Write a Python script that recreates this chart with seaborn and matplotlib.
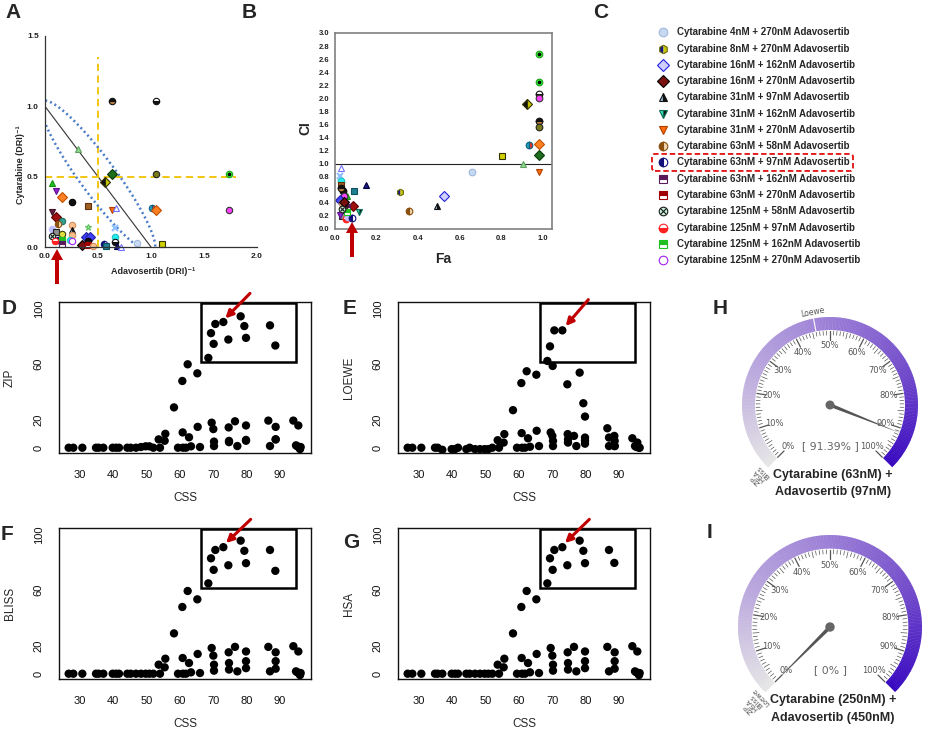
import numpy as np
import pandas as pd
import matplotlib
matplotlib.use("Agg")
import matplotlib.pyplot as plt
import seaborn as sns
from matplotlib.patches import Wedge, Circle, Rectangle, Polygon, FancyArrow, FancyBboxPatch
from matplotlib.colors import LinearSegmentedColormap

sns.set_style("white")
plt.rcParams['font.family'] = ['Liberation Sans', 'DejaVu Sans']

# ---------------- data ----------------
# Panel A: isobologram (normalized DRI^-1), style index per point
A_x = [0.63, 1.045, 0.31, 0.63, 1.045, 1.74, 0.57, 0.063, 0.105, 0.157, 0.25, 0.41, 0.63, 0.67,
       1.01, 1.045, 1.74, 0.063, 0.105, 0.157, 0.126, 0.25, 0.41, 0.66, 0.063, 0.105, 0.25, 0.157,
       0.39, 0.425, 0.25, 0.66, 0.07, 0.126, 0.157, 0.236, 0.25, 0.41, 0.095, 0.157, 0.346, 0.41,
       0.457, 0.557, 0.58, 0.66, 0.68, 0.72, 0.866, 1.10]
A_y = [1.036, 1.036, 0.695, 0.52, 0.52, 0.52, 0.46, 0.457, 0.40, 0.357, 0.32, 0.293, 0.26, 0.28,
       0.274, 0.26, 0.26, 0.25, 0.21, 0.183, 0.16, 0.155, 0.143, 0.136, 0.13, 0.107, 0.12, 0.095,
       0.07, 0.07, 0.083, 0.07, 0.08, 0.052, 0.048, 0.048, 0.043, 0.043, 0.043, 0.02, 0.012, 0.012,
       0.005, 0.02, 0.005, 0.036, 0.005, 0.0, 0.03, 0.024]
A_sty = [15, 16, 17, 18, 19, 20, 21, 22, 23, 24, 25, 26, 6, 27,
         28, 24, 29, 30, 31, 32, 7, 33, 34, 35, 36, 37, 4, 39,
         40, 40, 33, 41, 11, 8, 13, 41, 14, 25, 12, 9, 3, 10,
         33, 8, 44, 16, 38, 27, 0, 45]

# Panel B: Fa vs CI
B_fa = [0.98, 0.98, 0.98, 0.98, 0.925, 0.98, 0.98, 0.98, 0.936, 0.98, 0.804, 0.904, 0.98, 0.66,
        0.527, 0.49, 0.357, 0.313, 0.15, 0.093, 0.116, 0.085, 0.029, 0.024, 0.029, 0.029, 0.037,
        0.056, 0.045, 0.024, 0.032, 0.056, 0.048, 0.04, 0.032, 0.053, 0.064, 0.08, 0.024, 0.03,
        0.045, 0.06, 0.035]
B_ci = [2.68, 2.255, 2.07, 2.0, 1.92, 1.65, 1.56, 1.30, 1.28, 1.14, 1.12, 0.995, 0.88, 0.88,
        0.5, 0.357, 0.28, 0.566, 0.68, 0.577, 0.255, 0.347, 0.93, 0.81, 0.73, 0.68, 0.577,
        0.5, 0.5, 0.45, 0.4, 0.33, 0.31, 0.245, 0.194, 0.15, 0.19, 0.168, 0.22, 0.62,
        0.42, 0.26, 0.3]
B_sty = [20, 20, 16, 29, 21, 15, 19, 24, 28, 18, 45, 17, 6, 0,
         2, 4, 7, 1, 38, 44, 5, 31, 27, 35, 41, 26, 25,
         22, 29, 40, 33, 9, 30, 39, 37, 12, 36, 8, 23, 15,
         3, 13, 11]

# Panel C: combinations
cyt_nM = [4, 8, 16, 16, 31, 31, 31, 63, 63, 63, 63, 125, 125, 125, 125]
ada_nM = [270, 270, 162, 270, 97, 162, 270, 58, 97, 162, 270, 58, 97, 162, 270]
highlight = 8

# Panels D-G: CSS vs synergy scores
CSS = [26.6, 28.0, 30.7, 34.8, 35.6, 37.0, 39.8, 40.8, 41.7, 44.2, 45.2, 46.8, 48.3, 49.7, 50.8, 52.0,
       53.6, 54.0, 55.4, 55.6, 58.2, 59.4, 60.7, 60.8, 60.9, 61.8, 62.3, 62.7, 63.3, 65.2, 65.3, 66.0,
       68.5, 69.3, 69.5, 70.0, 70.1, 70.2, 70.2, 70.6, 73.0, 74.5, 74.6, 74.7, 74.7, 76.5, 77.2,
       78.2, 79.3, 79.8, 79.8, 79.8, 79.8, 86.5, 87.0, 87.0, 88.6, 88.7, 88.7, 88.7,
       94.0, 95.5, 94.8, 95.2, 95.6, 96.0, 96.2]
ZIP = [0, 0, 0, 0, 0, 0, 0, 0, 0, 0, 0, 0, 0.5, 1, 1, 0,
       6, 0, 5, 10, 29, 0, 48, 11, 0, 0, 60, 7.5, 1, 53.5, 15, 0.5,
       64.6, 82.4, 18, 13.4, 74.7, 4.4, 1.2, 89, 90.4, 77.8, 14.6, 4.9, 4.0, 19, 1.2,
       94.5, 87.5, 79, 16, 5.6, 5.0, 19.5, 1.2, 88, 73.5, 15, 6, 6,
       19.5, 16, 1.7, 1, 0.5, -1, 0.5]
LOEWE = [0, 0, 0, 0, 0, -1.5, -1, -1, 0, -1, 0, -1, -1, -1, -1, 0,
         5.4, 0, 3.7, 9.8, 27, 0, 46.5, 10.5, 0, 0, 55, 6.8, 0.7, 52.5, 12.2, 1.2,
         62.4, 72.9, 11, 8.5, 58.8, 4.9, 1.2, 84.4, 84.4, 45.6, 9.8, 3.7, 6, 8.5, 1.2,
         54, 32, 22.4, 7.3, 2.9, 5, 14, 1.2, 7.3, 8.5, 4.9, 1.2, 1.2,
         6.8, 3.7, 1.2, 0.5, 1.2, 0, 0]
BLISS = [0, 0, 0, 0, 0, 0, 0, 0, 0, 0, 0, 0, 0, 0, 0, 0,
         6.5, 0, 4.6, 10.8, 29, 0, 48, 11.3, 0, 0, 59.5, 7.7, 1, 53.5, 14.2, 0.5,
         65, 83, 18.5, 13, 74.7, 6.5, 2.2, 89, 91, 78, 15.4, 7.7, 3, 19.3, 1.7,
         95.7, 88.4, 79.5, 16, 9, 4, 19.3, 1.7, 89, 74, 15.4, 9, 3.6,
         19.8, 16, 1.7, 1, 0.5, -1, 0.5]
HSA = [0, 0, 0, 0, 0, 0, 0, 0, 0, 0, 0, 0, 0, 0, 0, 0,
       6.5, 0, 4.6, 10.8, 29, 0, 48, 11.3, 0, 0, 59.5, 7.7, 1, 53.5, 14.2, 0.5,
       65, 83, 18.5, 13, 74.7, 6.5, 2.2, 89, 91, 78, 15.4, 7.7, 3, 19.3, 1.7,
       95.7, 88.4, 79.5, 16, 9, 4, 19.3, 1.7, 89, 79.7, 15.4, 9, 3.6,
       19.8, 16, 1.7, 1, 0.5, -1, 0.5]

# Panels H-I: gauges
gauge_values = [91.39, 0.0]
gauge_titles = [["Cytarabine (63nM) +", "Adavosertib (97nM)"],
                ["Cytarabine (250nM) +", "Adavosertib (450nM)"]]
gauge_marks = [[("Loewe", 46.0)], [("", 0.0)]]
gauge_stack = [["Bliss", "HSA", "ZIP"], ["Loewe", "Bliss", "HSA", "ZIP"]]

# marker styles: (marker, fillstyle, face, face_alt, edge, overlay)
STY = [
    ('o', 'full', '#c6d9f1', '#c6d9f1', '#9fb8dd', None),
    ('h', 'left', '#1a1a80', '#c8c800', '#6b6b00', None),
    ('D', 'full', '#d0d0ff', '#d0d0ff', '#2020e0', None),
    ('D', 'full', '#7a1010', '#7a1010', '#000000', None),
    ('^', 'left', '#9dc3e6', '#111111', '#111111', None),
    ('v', 'right', '#111111', '#3de0b4', '#0e6e58', None),
    ('v', 'full', '#ff6a10', '#ff6a10', '#b04000', None),
    ('o', 'left', '#8a5010', '#f2d6b0', '#8a5010', None),
    ('o', 'left', '#10107a', '#ffffff', '#10107a', None),
    ('s', 'top', '#5a1a5a', '#ffffff', '#5a1a5a', None),
    ('s', 'top', '#a00000', '#ffffff', '#a00000', None),
    ('o', 'full', '#c8f0dc', '#c8f0dc', '#1a1a1a', 'x'),
    ('o', 'bottom', '#ff2020', '#ffffff', '#ff2020', None),
    ('s', 'top', '#20c020', '#ffffff', '#20c020', None),
    ('o', 'full', '#ffffff', '#ffffff', '#a020f0', None),
    ('o', 'top', '#111111', '#c08040', '#111111', None),
    ('o', 'bottom', '#111111', '#ffffff', '#111111', None),
    ('^', 'full', '#90d890', '#90d890', '#60a060', None),
    ('D', 'full', '#1e6e1e', '#1e6e1e', '#0a3a0a', None),
    ('o', 'full', '#7a7a18', '#7a7a18', '#222222', None),
    ('o', 'full', '#30ff30', '#30ff30', '#20a020', '.'),
    ('D', 'left', '#111111', '#c8c800', '#333300', None),
    ('^', 'full', '#20c020', '#20c020', '#109010', None),
    ('v', 'full', '#9020d0', '#9020d0', '#601090', None),
    ('D', 'full', '#ff8020', '#ff8020', '#c05000', None),
    ('o', 'full', '#111111', '#111111', '#000000', None),
    ('s', 'full', '#a06020', '#a06020', '#603010', None),
    ('^', 'full', '#ffffff', '#ffffff', '#7070ff', None),
    ('o', 'left', '#20a0c0', '#e03030', '#106080', None),
    ('o', 'full', '#ff40ff', '#ff40ff', '#333333', None),
    ('v', 'full', '#602040', '#602040', '#401020', None),
    ('D', 'full', '#a01010', '#a01010', '#600000', None),
    ('o', 'full', '#30a090', '#30a090', '#207060', None),
    ('o', 'full', '#ffc090', '#ffc090', '#d09060', None),
    ('*', 'full', '#90f090', '#90f090', '#60c060', None),
    ('x', 'full', '#90c0ff', '#90c0ff', '#90c0ff', None),
    ('o', 'full', '#c0c0ff', '#c0c0ff', '#c0c0ff', None),
    ('s', 'full', '#909090', '#909090', '#202020', None),
    ('^', 'full', '#1a1a80', '#1a1a80', '#000040', None),
    ('o', 'full', '#e0e040', '#e0e040', '#404000', None),
    ('D', 'full', '#4040ff', '#4040ff', '#2020a0', None),
    ('o', 'full', '#20f0f0', '#20f0f0', '#20c0c0', None),
    ('o', 'full', '#206060', '#206060', '#103030', None),
    ('o', 'full', '#ff2020', '#ff2020', '#c00000', None),
    ('s', 'full', '#208090', '#208090', '#105060', None),
    ('s', 'full', '#d0d000', '#d0d000', '#333300', None),
    ('o', 'full', '#ffffff', '#ffffff', '#ff20ff', None),
]

W, H = 925, 732
fig = plt.figure(figsize=(W / 100, H / 100), dpi=100)
fig.patch.set_facecolor('white')


def add_ax(l, t, r, b, **kw):
    return fig.add_axes([l / W, 1 - b / H, (r - l) / W, (b - t) / H], **kw)


def draw_marker(ax, x, y, idx, ms, clip=False):
    m, fs, fc, fca, ec, ov_m = STY[idx]
    kw = dict(marker=m, ms=ms, mfc=fc, mec=ec, mew=0.8, ls='none', clip_on=clip, fillstyle=fs)
    if fs != 'full':
        kw['markerfacecoloralt'] = fca
    if m == 'x':
        kw['mew'] = 1.5
    ax.plot([x], [y], **kw)
    if ov_m == 'x':
        ax.plot([x], [y], marker='x', ms=ms * 0.6, mec='#1a1a1a', mew=0.8, ls='none', clip_on=clip)
    elif ov_m == '.':
        ax.plot([x], [y], marker='o', ms=ms * 0.35, mfc='black', mec='black', ls='none', clip_on=clip)


# ---------------- Panel A ----------------
axA = add_ax(45, 36, 257, 247)
axA.set_xlim(0, 2.0)
axA.set_ylim(0, 1.5)
for sp in ['top', 'right']:
    axA.spines[sp].set_visible(False)
for sp in ['left', 'bottom']:
    axA.spines[sp].set_color('#333333')
    axA.spines[sp].set_linewidth(0.9)
axA.set_xticks([0, 0.5, 1.0, 1.5, 2.0])
axA.set_xticklabels(['0.0', '0.5', '1.0', '1.5', '2.0'], fontsize=6, fontweight='bold')
axA.set_yticks([0, 0.5, 1.0, 1.5])
axA.set_yticklabels(['0.0', '0.5', '1.0', '1.5'], fontsize=6, fontweight='bold')
axA.tick_params(direction='out', length=3, width=0.8, pad=1.5, colors='#222222')
axA.plot([0, 1], [1, 0], color='#333333', lw=0.8)
axA.plot([0.5, 0.5], [0, 1.35], color='#f2c200', lw=1.3, ls=(0, (4, 2.5)))
axA.plot([0, 1.8], [0.5, 0.5], color='#f2c200', lw=1.3, ls=(0, (4, 2.5)))
t = np.linspace(0, 2 * np.pi, 400)
u = np.array([1, -1]) / np.sqrt(2)
v = np.array([1, 1]) / np.sqrt(2)
ea, eb = 0.75, 0.15
ex = 0.5 + ea * np.cos(t) * u[0] + eb * np.sin(t) * v[0]
ey = 0.5 + ea * np.cos(t) * u[1] + eb * np.sin(t) * v[1]
axA.plot(ex, ey, color='#4a7cc8', lw=1.8, ls=(0, (0.8, 1.2)))
for x, y, s in zip(A_x, A_y, A_sty):
    draw_marker(axA, x, y, s, 4.6)
axA.set_ylabel('Cytarabine (DRI)⁻¹', fontsize=6.5, fontweight='bold')
axA.yaxis.set_label_coords(-0.094, 0.39)
axA.set_xlabel('Adavosertib (DRI)⁻¹', fontsize=6.5, fontweight='bold')
axA.xaxis.set_label_coords(0.51, -0.095)

# ---------------- Panel B ----------------
axB = add_ax(335, 33, 552, 229)
axB.set_xlim(0, 1.045)
axB.set_ylim(0, 3.0)
for sp in axB.spines.values():
    sp.set_color('#808080')
    sp.set_linewidth(1.2)
xt = np.round(np.arange(0, 1.01, 0.2), 1)
yt = np.round(np.arange(0, 3.01, 0.2), 1)
axB.set_xticks(xt)
axB.set_xticklabels([f'{a:.1f}' for a in xt], fontsize=5.5, fontweight='bold')
axB.set_yticks(yt)
axB.set_yticklabels([f'{a:.1f}' for a in yt], fontsize=5.5, fontweight='bold')
axB.tick_params(direction='out', length=2.5, width=0.7, pad=1.5, colors='#222222')
axB.axhline(1.0, color='#222222', lw=0.8)
for x, y, s in zip(B_fa, B_ci, B_sty):
    draw_marker(axB, x, y, s, 4.8)
axB.set_ylabel('CI', fontsize=10, fontweight='bold')
axB.yaxis.set_label_coords(-0.106, 0.515)
axB.set_xlabel('Fa', fontsize=10, fontweight='bold')
axB.xaxis.set_label_coords(0.498, -0.117)

# ---------------- Panels D-G ----------------
panels = [
    ((59, 302, 311, 453), ZIP, 'ZIP', (81, 111), (73.6, 93)),
    ((398, 302, 650, 453), LOEWE, 'LOEWE', (80.8, 106.5), (74.0, 87.5)),
    ((59, 528, 311, 679), BLISS, 'BLISS', (81.2, 111), (73.8, 94)),
    ((398, 528, 650, 679), HSA, 'HSA', (81.1, 111), (73.8, 94)),
]
for (box, vals, lab, a0, a1) in panels:
    ax = add_ax(*box)
    df = pd.DataFrame({'CSS': CSS, lab: vals})
    sns.scatterplot(data=df, x='CSS', y=lab, ax=ax, color='black', s=36, edgecolor='none', linewidth=0)
    ax.set_xlim(23.7, 99.3)
    ax.set_ylim(-3.8, 104.8)
    ax.set_xticks([30, 40, 50, 60, 70, 80, 90])
    ax.set_xticklabels(['30', '40', '50', '60', '70', '80', '90'], fontsize=8)
    ax.set_yticks([0, 20, 40, 60, 80, 100])
    ax.set_yticklabels(['0', '20', '', '60', '', '100'], fontsize=8, rotation=90, va='center')
    ax.tick_params(direction='out', length=5, width=0.8, colors='#111111')
    ax.tick_params(axis='x', pad=7)
    ax.tick_params(axis='y', pad=6)
    for sp in ax.spines.values():
        sp.set_visible(True)
        sp.set_color('#111111')
        sp.set_linewidth(1.0)
    ax.add_patch(Rectangle((66.3, 61.3), 28.5, 42.6, fill=False, lw=1.8, ec='black', clip_on=False))
    ax.annotate('', xy=a1, xytext=a0, annotation_clip=False,
                arrowprops=dict(arrowstyle='-|>', color='#c00000', lw=2.2, mutation_scale=11,
                                shrinkA=0, shrinkB=0))
    ax.set_xlabel('CSS', fontsize=8.5)
    ax.xaxis.set_label_coords(0.5, -0.255)
    ax.set_ylabel(lab, fontsize=8.5)
    ax.yaxis.set_label_coords(-0.172, 0.5)

# ---------------- overlay ----------------
ov = fig.add_axes([0, 0, 1, 1], zorder=20)
ov.set_xlim(0, W)
ov.set_ylim(0, H)
ov.axis('off')
ov.patch.set_alpha(0)


def Y(y):
    return H - y


for lt, (lx, ly) in zip('ABCDEFGHI', [(13, 13), (249, 13), (601, 13), (9, 309), (350, 309),
                                       (7, 535), (351, 542), (720, 308), (710, 532)]):
    ov.text(lx, Y(ly), lt, fontsize=15, fontweight='bold', ha='center', va='center')

# red arrows in A and B
ov.add_patch(FancyArrow(57, Y(284), 0, 35, width=4, head_width=12, head_length=11,
                        length_includes_head=True, color='#c00000', lw=0))
ov.add_patch(FancyArrow(352, Y(257), 0, 35, width=4, head_width=12, head_length=11,
                        length_includes_head=True, color='#c00000', lw=0))

# legend C
for i, (c, a) in enumerate(zip(cyt_nM, ada_nM)):
    yy = Y(32.3 + 16.27 * i)
    draw_marker(ov, 663, yy, i, 6.2)
    ov.text(677, yy, f'Cytarabine {c}nM + {a}nM Adavosertib', fontsize=7, fontweight='bold',
            ha='left', va='center')
hy = 32.3 + 16.27 * highlight
ov.add_patch(FancyBboxPatch((652, Y(hy + 8.5)), 201, 17, boxstyle='round,pad=0,rounding_size=3',
                            fill=False, ec='#e01010', lw=1.3, ls=(0, (3, 1.6))))

# gauges
gcmap = LinearSegmentedColormap.from_list('g', ['#e6e6e6', '#bba9de', '#9b7ed6', '#7049ca', '#3708c0'])


def draw_gauge(cx, cy, R, value, marks, stack, title):
    s = R / 88.0
    Yc = Y(cy)
    for i in range(270):
        th1 = -45 + i
        p = (225 - (th1 + 0.5)) / 270.0
        ov.add_patch(Wedge((cx, Yc), R, th1, th1 + 1.3, width=13 * s, facecolor=gcmap(p), edgecolor='none'))
    for p in range(101):
        th = np.radians(225 - 2.7 * p)
        r0 = (65 if p % 10 == 0 else (68 if p % 5 == 0 else 70)) * s
        r1 = 74 * s
        ov.plot([cx + r0 * np.cos(th), cx + r1 * np.cos(th)], [Yc + r0 * np.sin(th), Yc + r1 * np.sin(th)],
                color='#555555', lw=0.9 if p % 10 == 0 else 0.5)
    for p in range(0, 101, 10):
        th = np.radians(225 - 2.7 * p)
        ov.text(cx + 59 * s * np.cos(th), Yc + 59 * s * np.sin(th), f'{p}%', fontsize=6, color='#555555',
                ha='center', va='center', family='DejaVu Sans')
    for lab, p in marks:
        if not lab:
            continue
        th = np.radians(225 - 2.7 * p)
        ov.plot([cx + (R - 13 * s) * np.cos(th), cx + R * np.cos(th)],
                [Yc + (R - 13 * s) * np.sin(th), Yc + R * np.sin(th)], color='white', lw=0.8)
        ov.text(cx + (R + 6) * np.cos(th), Yc + (R + 6) * np.sin(th), lab, fontsize=5.5, color='#555555',
                ha='center', va='center', rotation=np.degrees(th) - 90, family='DejaVu Sans')
    th = np.radians(225)
    for j, lab in enumerate(stack):
        r = R + 6 + 6 * j
        ov.text(cx + r * np.cos(th), Yc + r * np.sin(th), lab, fontsize=5, color='#555555',
                ha='center', va='center', rotation=np.degrees(th) - 90, family='DejaVu Sans')
    th = np.radians(225 - 2.7 * value)
    tip = np.array([cx + 76 * s * np.cos(th), Yc + 76 * s * np.sin(th)])
    n = np.array([-np.sin(th), np.cos(th)]) * 1.8 * s
    c0 = np.array([cx, Yc])
    ov.add_patch(Polygon([c0 + n, tip, c0 - n], closed=True, color='#555555', lw=0))
    ov.add_patch(Circle((cx, Yc), 4.5 * s, color='#666666', lw=0))
    ov.text(cx, Yc - 41 * s, f'[ {value:g}% ]', fontsize=7.8, color='#666666', ha='center', va='center',
            family='DejaVu Sans')
    for k, line in enumerate(title):
        ov.text(cx + 3, Y(cy + (70 + 17 * k) * s), line, fontsize=9, fontweight='bold', ha='center', va='center')


draw_gauge(830, 405, 88, gauge_values[0], gauge_marks[0], gauge_stack[0], gauge_titles[0])
draw_gauge(830, 627, 92, gauge_values[1], gauge_marks[1], gauge_stack[1], gauge_titles[1])

fig.savefig('out.png', dpi=100, facecolor='white')
